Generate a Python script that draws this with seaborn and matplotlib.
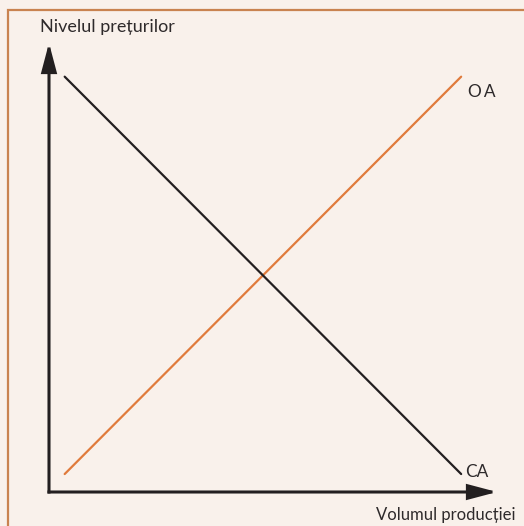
import matplotlib
matplotlib.use("Agg")
import matplotlib.pyplot as plt
import seaborn as sns
import pandas as pd
from matplotlib.patches import Rectangle, FancyArrowPatch

# data: aggregate demand (CA) and aggregate supply (OA), arbitrary 0-10 units
quantity = [0.35, 9.2]
oa_price = [0.4, 9.25]
ca_price = [9.25, 0.4]
x_label = "Volumul producției"
y_label = "Nivelul prețurilor"

bg = "#f9f1eb"
orange = "#e07b3c"
dark = "#231f20"
text_col = "#2e2a2b"

sns.set_theme(style="white")
plt.rcParams["font.family"] = ["Lato", "DejaVu Sans"]

W, H = 524, 526
fig = plt.figure(figsize=(W / 100, H / 100), dpi=100, facecolor=bg)

# orange frame (right/bottom edges run off the picture)
fig.patches.append(Rectangle((8 / W, -0.1), 1.2, (H - 10) / H + 0.1,
                             transform=fig.transFigure, fill=False,
                             edgecolor="#c98350", linewidth=1.6))

ax = fig.add_axes([49 / W, 34 / H, 448 / W, 449 / H])
ax.set_facecolor("none")
ax.set_xlim(0, 10)
ax.set_ylim(0, 10)
ax.axis("off")

df = pd.DataFrame({"q": quantity * 2,
                   "p": oa_price + ca_price,
                   "curve": ["OA"] * 2 + ["CA"] * 2})
sns.lineplot(data=df, x="q", y="p", hue="curve", sort=False,
             palette={"OA": orange, "CA": dark}, linewidth=1.6,
             legend=False, ax=ax)

# axes arrows
for end in [(0, 10), (10, 0)]:
    arr = FancyArrowPatch((0, 0), end, arrowstyle="-|>,head_length=17,head_width=4.5",
                          mutation_scale=1, shrinkA=0, shrinkB=0,
                          color=dark, linewidth=2.2, clip_on=False,
                          joinstyle="miter", capstyle="projecting")
    ax.add_patch(arr)

fig.text(40 / W, 1 - 32 / H, y_label, fontsize=13, color=text_col, ha="left", va="baseline")
fig.text(515 / W, 1 - 520 / H, x_label, fontsize=12, color=text_col, ha="right", va="baseline")
fig.text(468 / W, 1 - 97 / H, "O\u2009A", fontsize=12.4, color=text_col, ha="left", va="baseline")
fig.text(465 / W, 1 - 477 / H, "CA", fontsize=12.4, color=text_col, ha="left", va="baseline")

fig.savefig("out.png", dpi=100, facecolor=bg)
